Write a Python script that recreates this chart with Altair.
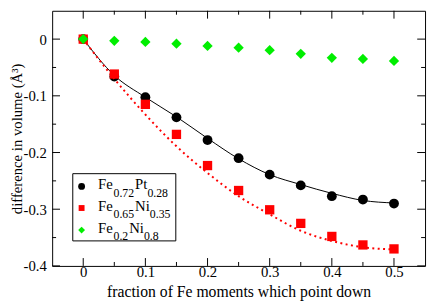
import altair as alt
import pandas as pd

# ---------------- data ----------------
x_vals = [0.0, 0.05, 0.1, 0.15, 0.2, 0.25, 0.3, 0.35, 0.4, 0.45, 0.5]
fept = [0.0, -0.066, -0.1025, -0.138, -0.178, -0.210, -0.239, -0.258, -0.277, -0.283, -0.290]
feni35 = [0.0, -0.0616, -0.115, -0.168, -0.223, -0.267, -0.301, -0.325, -0.348, -0.363, -0.370]
feni80 = [0.0, -0.003, -0.005, -0.008, -0.012, -0.015, -0.0195, -0.026, -0.033, -0.035, -0.0385]
fept_fit = [0.0, -0.064, -0.1025, -0.137, -0.175, -0.211, -0.239, -0.2565, -0.272, -0.2845, -0.289]
feni35_fit = [0.0, -0.070, -0.133, -0.189, -0.236, -0.277, -0.309, -0.338, -0.356, -0.367, -0.371]

x_major = [0.0, 0.1, 0.2, 0.3, 0.4, 0.5]
x_minor = [0.05, 0.15, 0.25, 0.35, 0.45]
y_major = [-0.4, -0.3, -0.2, -0.1, 0.0]
y_minor = [-0.35, -0.25, -0.15, -0.05]

legend_main = [["Fe", "Pt"], ["Fe", "Ni"], ["Fe", "Ni"]]
legend_sub = [["0.72", "0.28"], ["0.65", "0.35"], ["0.2", "0.8"]]

# ---------------- layout / style ----------------
W, H = 380, 260
FONT = "Liberation Serif"
RED = "#ff0000"
GREEN = "#00ee00"

xs = alt.Scale(domain=[-0.05, 0.55], nice=False, zero=False)
ys = alt.Scale(domain=[-0.4, 0.05], nice=False, zero=False)

minus = "\u2212"
lab_expr = f"datum.value == 0 ? '0' : replace(format(datum.value, '.1f'), '{minus}', '-')"

xaxis = alt.Axis(values=x_major, labelExpr=lab_expr, ticks=False, tickSize=0, domain=False,
                 grid=False, labelFont=FONT, labelFontSize=15, labelColor="black",
                 labelPadding=-1, title="fraction of Fe moments which point down",
                 titleFont=FONT, titleFontSize=16, titleFontWeight="normal",
                 titleColor="black", titleX=W / 2, titleY=31, titleBaseline="alphabetic",
                 titleAlign="center")
yaxis = alt.Axis(values=y_major, labelExpr=lab_expr, ticks=False, tickSize=0, domain=False,
                 grid=False, labelFont=FONT, labelFontSize=15, labelColor="black",
                 labelPadding=6, title="difference in volume (Å³)",
                 titleFont=FONT, titleFontSize=15, titleFontWeight="normal",
                 titleColor="black", titleAngle=270, titleX=-31.5, titleY=H / 2,
                 titleBaseline="alphabetic", titleAlign="center")

pts = pd.DataFrame({"x": x_vals, "fept": fept, "feni35": feni35, "feni80": feni80})
fit = pd.DataFrame({"x": x_vals, "fept_fit": fept_fit, "feni35_fit": feni35_fit})

def XQ(field):
    return alt.X(field, scale=xs, axis=xaxis)

def YQ(field):
    return alt.Y(field, scale=ys, axis=yaxis)

black_line = alt.Chart(fit).mark_line(color="black", strokeWidth=1, interpolate="monotone").encode(
    x=XQ("x:Q"), y=YQ("fept_fit:Q"))
black_pts = alt.Chart(pts).mark_point(shape="circle", filled=True, size=100, color="black", opacity=1).encode(
    x=XQ("x:Q"), y=YQ("fept:Q"))
red_line = alt.Chart(fit).mark_line(color=RED, strokeWidth=2, strokeDash=[2, 3.5],
                                    interpolate="monotone").encode(
    x=XQ("x:Q"), y=YQ("feni35_fit:Q"))
red_pts = alt.Chart(pts).mark_point(shape="square", filled=True, size=90, color=RED, opacity=1).encode(
    x=XQ("x:Q"), y=YQ("feni35:Q"))
green_pts = alt.Chart(pts).mark_point(shape="diamond", filled=True, size=110, color=GREEN, opacity=1).encode(
    x=XQ("x:Q"), y=YQ("feni80:Q"))

# inward ticks on all four sides
def xticks(vals, length):
    d = pd.DataFrame({"t": vals})
    bot = alt.Chart(d).mark_rule(color="black", strokeWidth=1).encode(
        x=XQ("t:Q"), y=alt.value(H), y2=alt.value(H - length))
    top = alt.Chart(d).mark_rule(color="black", strokeWidth=1).encode(
        x=XQ("t:Q"), y=alt.value(0), y2=alt.value(length))
    return [bot, top]

def yticks(vals, length):
    d = pd.DataFrame({"t": vals})
    left = alt.Chart(d).mark_rule(color="black", strokeWidth=1).encode(
        y=YQ("t:Q"), x=alt.value(0), x2=alt.value(length))
    right = alt.Chart(d).mark_rule(color="black", strokeWidth=1).encode(
        y=YQ("t:Q"), x=alt.value(W), x2=alt.value(W - length))
    return [left, right]

tick_layers = xticks(x_major, 8) + xticks(x_minor, 4) + yticks(y_major, 8) + yticks(y_minor, 4)

# ---------------- hand-built legend with subscripts ----------------
one = pd.DataFrame({"a": [0]})
EM = {"F": 0.611, "e": 0.444, "P": 0.556, "t": 0.278, "N": 0.722, "i": 0.278, ".": 0.25}
def tw(s, fs):
    return sum(EM.get(c, 0.5) for c in s) * fs

MAIN_FS, SUB_FS = 15, 12
row_y = [179, 201, 223.5]
box = alt.Chart(one).mark_rect(fill="white", stroke="black", strokeWidth=1).encode(
    x=alt.value(21), x2=alt.value(126), y=alt.value(166), y2=alt.value(234.5))
legend_layers = [box]
shapes = [("circle", "black", 49), ("square", RED, 36), ("diamond", GREEN, 49)]
for i, (shape, col, sz) in enumerate(shapes):
    cy = row_y[i]
    legend_layers.append(alt.Chart(one).mark_point(shape=shape, filled=True, size=sz, color=col, opacity=1)
                         .encode(x=alt.value(30), y=alt.value(cy)))
    xpos = 46.7
    for m, s in zip(legend_main[i], legend_sub[i]):
        legend_layers.append(alt.Chart(one).mark_text(text=m, font=FONT, fontSize=MAIN_FS, color="black",
                                                      align="left", baseline="alphabetic")
                             .encode(x=alt.value(xpos), y=alt.value(cy + 3)))
        xpos += tw(m, MAIN_FS)
        legend_layers.append(alt.Chart(one).mark_text(text=s, font=FONT, fontSize=SUB_FS, color="black",
                                                      align="left", baseline="alphabetic")
                             .encode(x=alt.value(xpos), y=alt.value(cy + 10.5)))
        xpos += tw(s, SUB_FS) + 1

chart = alt.layer(black_line, black_pts, red_line, red_pts, green_pts, *tick_layers, *legend_layers).properties(
    width=W, height=H,
    autosize=alt.AutoSizeParams(type="none"),
    padding={"left": 45, "top": 0, "right": 3, "bottom": 37},
).configure_view(stroke="black", strokeWidth=1)

chart.save("out.html", embed_options={"renderer": "svg", "actions": False})
